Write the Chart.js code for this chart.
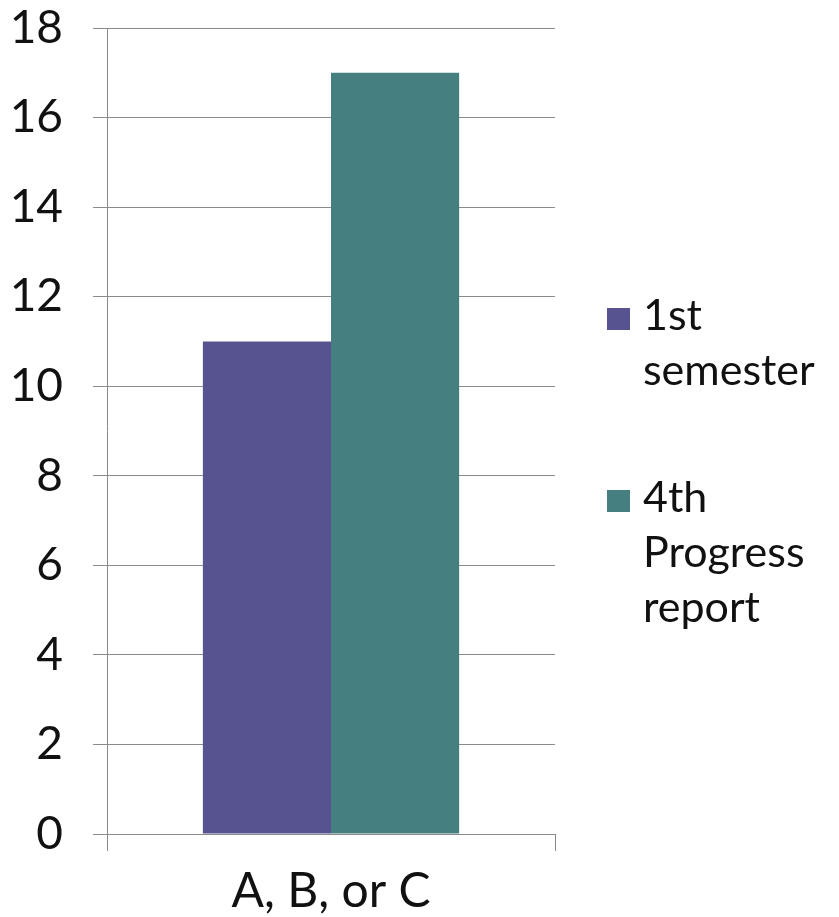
<!DOCTYPE html>
<html>
<head>
<meta charset="utf-8">
<style>
  html, body { margin: 0; padding: 0; background: #fff; }
  #wrap { width: 839px; height: 917px; }
</style>
<script src="https://cdn.jsdelivr.net/npm/chart.js@4"></script>
</head>
<body>
<div id="wrap"><canvas id="barChart"></canvas></div>
<script>
const categories = ['A, B, or C'];
const seriesNames = ['1st semester', '4th Progress report'];
const firstSemester = [11];
const fourthProgress = [17];
const yTicks = [0, 2, 4, 6, 8, 10, 12, 14, 16, 18];

const colors = ['#575290', '#457f80'];
const gridColor = '#8a8a8a';
const fontFamily = 'Lato, "Open Sans", sans-serif';

// legend drawn by hand so the labels can wrap like the original
const wrapLegend = {
    id: 'wrapLegend',
    afterDraw(chart, args, opts) {
        const ctx = chart.ctx;
        ctx.save();
        ctx.font = opts.fontSize + 'px ' + fontFamily;
        ctx.textBaseline = 'alphabetic';
        ctx.textAlign = 'left';
        let y = opts.y;
        chart.data.datasets.forEach((ds) => {
            const words = ds.label.split(' ');
            const lines = [];
            let line = '';
            words.forEach((w) => {
                const test = line ? line + ' ' + w : w;
                if (line && ctx.measureText(test).width > opts.maxWidth) {
                    lines.push(line);
                    line = w;
                } else {
                    line = test;
                }
            });
            lines.push(line);

            ctx.fillStyle = ds.backgroundColor;
            ctx.fillRect(opts.x, y - 22, 23, 22);
            ctx.fillStyle = '#111';
            lines.forEach((l, i) => {
                ctx.fillText(l, opts.x + 36, y + i * opts.lineHeight);
            });
            y += lines.length * opts.lineHeight + opts.gap;
        });
        ctx.restore();
    }
};

const ctx = document.getElementById('barChart').getContext('2d');

new Chart(ctx, {
    type: 'bar',
    data: {
        labels: categories,
        datasets: [
            { label: seriesNames[0], data: firstSemester, backgroundColor: colors[0] },
            { label: seriesNames[1], data: fourthProgress, backgroundColor: colors[1] }
        ]
    },
    options: {
        responsive: true,
        maintainAspectRatio: false,
        animation: false,
        categoryPercentage: 0.572,
        barPercentage: 1,
        layout: {
            padding: { top: 0, right: 284, left: 0, bottom: 0 }
        },
        scales: {
            x: {
                afterFit(scale) { scale.height = 83; },
                grid: {
                    offset: true,
                    drawOnChartArea: false,
                    color: gridColor,
                    tickLength: 17
                },
                border: { color: gridColor },
                ticks: {
                    color: '#111',
                    padding: 12,
                    font: { family: fontFamily, size: 48 }
                }
            },
            y: {
                min: 0,
                max: 18,
                afterFit(scale) {
                    scale.width = 107;
                    scale.paddingTop = 28;
                },
                afterBuildTicks(scale) {
                    scale.ticks = yTicks.map(v => ({ value: v }));
                },
                grid: {
                    color: gridColor,
                    tickLength: 14
                },
                border: { color: gridColor },
                ticks: {
                    color: '#111',
                    padding: 30,
                    font: { family: fontFamily, size: 46 }
                }
            }
        },
        plugins: {
            legend: { display: false },
            tooltip: { enabled: false },
            wrapLegend: {
                x: 607,
                y: 330,
                fontSize: 43,
                lineHeight: 55,
                gap: 72,
                maxWidth: 190
            }
        }
    },
    plugins: [wrapLegend]
});
</script>
</body>
</html>
